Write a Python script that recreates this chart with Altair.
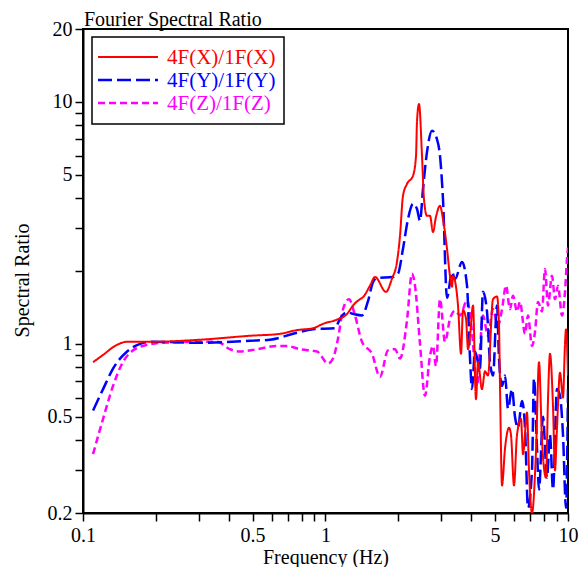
import altair as alt
import pandas as pd

# ---- data ----
fx = [0.110, 0.121, 0.1355, 0.152, 0.189, 0.304, 0.488, 0.649, 0.763, 0.888, 0.977, 1.115,
      1.227, 1.298, 1.388, 1.428, 1.526, 1.600, 1.776, 1.880, 1.971, 2.029, 2.087, 2.168,
      2.295, 2.362, 2.384, 2.430, 2.500, 2.547, 2.621, 2.697, 2.775, 2.855, 2.966, 3.051,
      3.170, 3.262, 3.324, 3.356, 3.420, 3.519, 3.621, 3.690, 3.797, 3.870, 3.944, 4.058,
      4.174, 4.255, 4.418, 4.546, 4.678, 4.906, 5.096, 5.194, 5.243, 5.344, 5.499, 5.711,
      5.820, 5.988, 6.161, 6.400, 6.523, 6.775, 6.905, 7.104, 7.379, 7.593, 7.812, 8.114,
      8.270, 8.428, 8.673, 8.838, 9.007, 9.268, 9.537, 9.719, 9.813, 10.0]
vx = [0.84, 0.90, 0.98, 1.02, 1.02, 1.04, 1.08, 1.10, 1.14, 1.16, 1.21, 1.26,
      1.33, 1.44, 1.53, 1.56, 1.74, 1.89, 1.64, 1.86, 2.18, 2.80, 4.09, 4.58,
      4.95, 5.98, 8.3, 9.8, 6.0, 3.97, 3.38, 3.38, 2.9, 3.35, 3.72, 3.28,
      2.47, 1.90, 1.72, 1.90, 1.82, 1.44, 0.91, 1.38, 1.27, 0.95, 1.08, 1.44,
      0.59, 0.84, 0.65, 0.77, 0.74, 1.53, 1.57, 1.19, 0.67, 0.26, 0.37, 0.45,
      0.42, 0.26, 0.42, 0.49, 0.35, 0.52, 0.30, 0.20, 0.36, 0.84, 0.40, 0.28,
      0.59, 0.91, 0.55, 0.30, 0.45, 0.76, 0.60, 1.00, 1.15, 0.74]

fy = [0.110, 0.121, 0.133, 0.152, 0.172, 0.194, 0.304, 0.488, 0.590, 0.735, 0.888, 1.094,
      1.148, 1.227, 1.298, 1.414, 1.497, 1.570, 1.631, 1.898, 1.991, 2.087, 2.189, 2.295,
      2.384, 2.453, 2.524, 2.621, 2.749, 2.883, 2.966, 3.051, 3.170, 3.324, 3.420, 3.656,
      3.833, 3.944, 4.019, 4.135, 4.334, 4.460, 4.634, 4.768, 4.906, 5.096, 5.194, 5.344,
      5.499, 5.657, 5.876, 6.045, 6.220, 6.461, 6.648, 6.840, 7.104, 7.240, 7.450, 7.593,
      7.887, 8.191, 8.428, 8.673, 9.007, 9.268, 9.537, 9.813, 10.0]
vy = [0.53, 0.65, 0.79, 0.93, 1.00, 1.02, 1.01, 1.03, 1.04, 1.10, 1.15, 1.16,
      1.27, 1.35, 1.33, 1.31, 1.50, 1.80, 1.87, 1.89, 1.95, 2.47, 3.28, 3.79,
      3.61, 3.22, 4.37, 6.2, 7.6, 7.0, 5.98, 3.97, 1.55, 1.98, 1.85, 2.18,
      1.74, 0.87, 0.65, 0.93, 0.79, 1.64, 1.36, 0.84, 0.74, 1.44, 0.87, 0.67,
      0.74, 0.54, 0.65, 0.50, 0.45, 0.58, 0.45, 0.21, 0.30, 0.72, 0.37, 0.25,
      0.50, 0.28, 0.42, 0.25, 0.65, 0.61, 0.42, 0.21, 0.65]

fz = [0.110, 0.121, 0.133, 0.146, 0.161, 0.184, 0.208, 0.357, 0.404, 0.444, 0.522, 0.631,
      0.694, 0.785, 0.923, 1.024, 1.074, 1.126, 1.181, 1.250, 1.323, 1.414, 1.555, 1.678,
      1.810, 1.934, 2.029, 2.168, 2.273, 2.339, 2.453, 2.571, 2.697, 2.775, 2.855, 2.966,
      3.110, 3.262, 3.420, 3.587, 3.833, 4.019, 4.214, 4.334, 4.460, 4.678, 4.906, 5.144,
      5.344, 5.551, 5.765, 5.932, 6.161, 6.339, 6.648, 6.840, 7.104, 7.310, 7.521, 7.812,
      8.037, 8.270, 8.590, 8.838, 9.093, 9.447, 9.719, 9.906, 10.0]
vz = [0.35, 0.49, 0.67, 0.84, 0.94, 0.99, 1.01, 1.02, 0.95, 0.93, 0.95, 0.98,
      0.98, 0.95, 0.93, 0.83, 0.87, 1.05, 1.39, 1.53, 1.31, 1.02, 0.91, 0.73,
      0.94, 0.95, 0.87, 1.25, 1.95, 1.74, 1.0, 0.61, 0.89, 0.98, 0.81, 1.53,
      1.02, 1.27, 1.37, 1.31, 1.51, 1.12, 0.67, 0.95, 1.31, 1.08, 1.39, 1.19,
      1.39, 1.74, 1.39, 1.58, 1.36, 1.49, 1.10, 1.31, 0.98, 1.12, 1.49, 1.36,
      2.04, 1.44, 1.91, 1.53, 1.74, 1.31, 1.64, 2.24, 2.50]

series_names = ["4F(X)/1F(X)", "4F(Y)/1F(Y)", "4F(Z)/1F(Z)"]
chart_title = "Fourier Spectral Ratio"
x_ticks = [0.1, 0.2, 0.3, 0.4, 0.5, 0.6, 0.7, 0.8, 0.9, 1, 2, 3, 4, 5, 6, 7, 8, 9, 10]
y_ticks = [0.2, 0.3, 0.4, 0.5, 0.6, 0.7, 0.8, 0.9, 1, 2, 3, 4, 5, 6, 7, 8, 9, 10, 20]

# ---- styling ----
FONT = "Liberation Serif"
colors = ["#FF0000", "#0000FF", "#FF00FF"]
dashes = [[1, 0], [14, 5], [7, 4]]
widths = [2, 2.5, 2.5]

xscale = alt.Scale(type="log", domain=[0.1, 10], nice=False)
yscale = alt.Scale(type="log", domain=[0.2, 20], nice=False)

xaxis = alt.Axis(
    values=x_ticks, title="Frequency (Hz)", grid=False,
    labelExpr="indexof([0.1,0.5,1,5,10], datum.value) >= 0 ? format(datum.value, '~g') : ''",
    labelOverlap=False, labelFlush=False, tickSize=8, labelPadding=4,
    titlePadding=2,
)
yaxis = alt.Axis(
    values=y_ticks, title="Spectral Ratio", grid=False,
    labelExpr="indexof([0.2,0.5,1,5,10,20], datum.value) >= 0 ? format(datum.value, '~g') : ''",
    labelOverlap=False, labelFlush=False, tickSize=8, labelPadding=3,
    titlePadding=15, titleY=251,
)


def line_layer(f, v, i):
    df = pd.DataFrame({"f": f, "v": v})
    return alt.Chart(df).mark_line(
        color=colors[i], strokeWidth=widths[i], strokeDash=dashes[i],
        interpolate="monotone", clip=True,
    ).encode(
        x=alt.X("f:Q", scale=xscale, axis=xaxis),
        y=alt.Y("v:Q", scale=yscale, axis=yaxis),
    )


lz = line_layer(fz, vz, 2)
ly = line_layer(fy, vy, 1)
lx = line_layer(fx, vx, 0)

one = alt.Data(values=[{"k": 0}])

title_mark = alt.Chart(one).mark_text(
    text=chart_title, color="black", font=FONT, fontSize=20,
    align="left", baseline="alphabetic",
).encode(x=alt.value(1), y=alt.value(-3))

legend_box = alt.Chart(one).mark_rect(
    fill="white", stroke="black", strokeWidth=1.5
).encode(x=alt.value(9), x2=alt.value(201), y=alt.value(8), y2=alt.value(95))

legend_layers = [legend_box]
rows_y = [28, 51, 74]
for i, name in enumerate(series_names):
    legend_layers.append(
        alt.Chart(one).mark_rule(
            color=colors[i], strokeWidth=widths[i], strokeDash=dashes[i]
        ).encode(x=alt.value(15), x2=alt.value(75), y=alt.value(rows_y[i]))
    )
    legend_layers.append(
        alt.Chart(one).mark_text(
            text=name, color=colors[i], font=FONT, fontSize=21,
            align="left", baseline="middle",
        ).encode(x=alt.value(84), y=alt.value(rows_y[i] + 1))
    )

chart = alt.layer(lz, ly, lx, title_mark, *legend_layers).properties(
    width=485, height=484,
    autosize=alt.AutoSizeParams(type="none"),
    padding={"left": 75, "top": 21, "right": 12, "bottom": 54},
).configure_view(
    stroke="black", strokeWidth=2
).configure_axis(
    labelFont=FONT, titleFont=FONT, labelFontSize=20, titleFontSize=20,
    titleFontWeight="normal", labelColor="black", titleColor="black",
    domainColor="black", domainWidth=2, tickColor="black", tickWidth=1.5,
)

chart.save("out.html", embed_options={"renderer": "svg", "actions": False})
